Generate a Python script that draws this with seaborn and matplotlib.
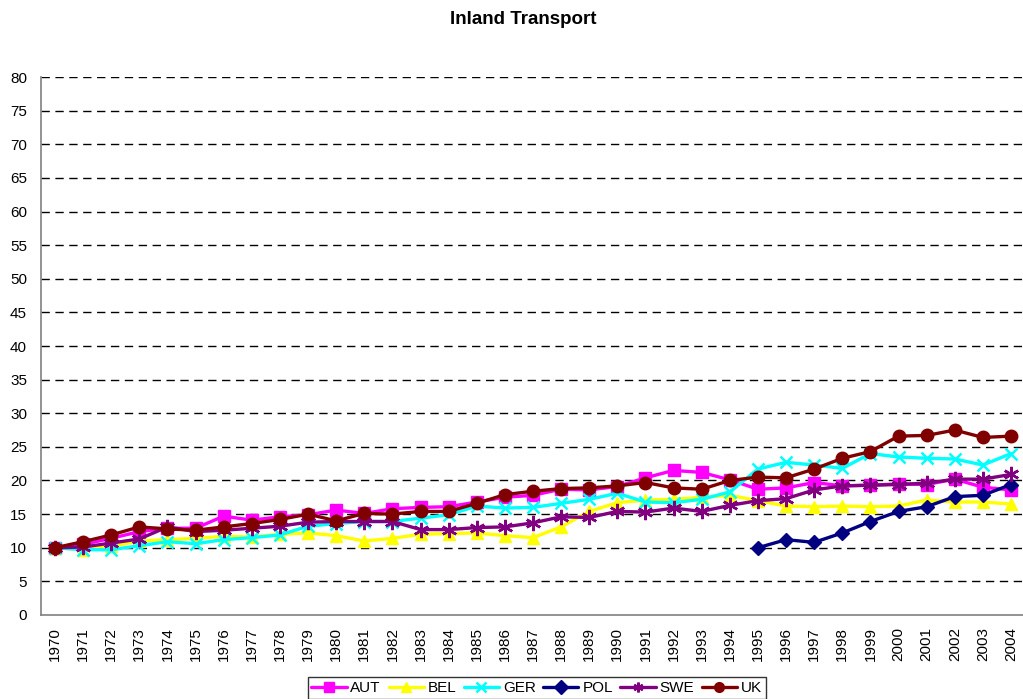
import numpy as np
import pandas as pd
import matplotlib
matplotlib.use("Agg")
import matplotlib.pyplot as plt
import seaborn as sns

years = list(range(1970, 2005))

aut = [10.0, 10.5, 11.4, 12.4, 12.9, 12.9, 14.7, 14.1, 14.6, 14.9, 15.6, 15.1, 15.8, 16.0, 16.1, 16.8, 17.5,
       17.8, 18.7, 18.6, 19.1, 20.4, 21.5, 21.2, 20.1, 18.7, 18.9, 19.7, 19.2, 19.3, 19.5, 19.4, 20.2, 19.0, 18.6]
bel = [10.0, 9.7, 10.2, 11.0, 11.2, 11.4, 11.7, 11.6, 12.0, 12.2, 11.8, 11.0, 11.4, 12.0, 12.1, 12.2, 11.8,
       11.5, 13.1, 15.4, 16.7, 17.1, 17.2, 17.5, 17.8, 17.0, 16.2, 16.1, 16.2, 16.1, 16.2, 17.1, 16.8, 16.8, 16.5]
ger = [10.0, 9.7, 9.7, 10.3, 10.9, 10.6, 11.2, 11.5, 11.9, 13.2, 13.6, 13.9, 13.9, 14.4, 14.9, 16.2, 15.9,
       16.0, 16.6, 17.2, 18.1, 16.8, 16.7, 17.2, 18.3, 21.7, 22.7, 22.3, 21.8, 24.0, 23.5, 23.3, 23.2, 22.3, 24.0]
pol = [np.nan] * 25 + [10.0, 11.2, 10.8, 12.2, 13.9, 15.4, 16.1, 17.6, 17.8, 19.4]
swe = [10.0, 10.1, 10.7, 11.3, 13.1, 12.4, 12.6, 12.9, 13.2, 13.8, 13.9, 13.9, 13.9, 12.7, 12.7, 13.0, 13.1,
       13.7, 14.6, 14.5, 15.4, 15.3, 15.9, 15.4, 16.3, 17.0, 17.3, 18.6, 19.2, 19.3, 19.4, 19.6, 20.2, 20.2, 20.9]
uk = [10.0, 10.9, 11.9, 13.1, 12.8, 12.6, 13.1, 13.6, 14.2, 15.0, 14.0, 15.1, 15.0, 15.4, 15.4, 16.6, 17.9,
      18.4, 18.8, 18.9, 19.2, 19.7, 18.9, 18.7, 20.0, 20.5, 20.4, 21.7, 23.3, 24.3, 26.6, 26.7, 27.5, 26.4, 26.6]

series = {"AUT": aut, "BEL": bel, "GER": ger, "POL": pol, "SWE": swe, "UK": uk}
colors = {"AUT": "#FF00FF", "BEL": "#FFFF00", "GER": "#00FFFF", "POL": "#000080", "SWE": "#800080", "UK": "#800000"}
markers = {"AUT": "s", "BEL": "^", "GER": "x", "POL": "D", "SWE": (6, 2, 0), "UK": "o"}
msizes = {"AUT": 8, "BEL": 9, "GER": 9, "POL": 7, "SWE": 11, "UK": 9}

sns.set_style("white")
plt.rcParams["font.family"] = ["Liberation Sans", "DejaVu Sans"]
plt.rcParams["text.color"] = "black"
plt.rcParams["xtick.labelcolor"] = "black"
plt.rcParams["ytick.labelcolor"] = "black"

fig = plt.figure(figsize=(10.23, 6.99), dpi=100)
ax = fig.add_axes([0.040, 0.1202, 0.962, 0.7696])

xpos = np.arange(len(years))
for name, vals in series.items():
    df = pd.DataFrame({"x": xpos, "y": vals}).dropna()
    sns.lineplot(data=df, x="x", y="y", ax=ax, color=colors[name], linewidth=2.4,
                 marker=markers[name], markersize=msizes[name], markeredgecolor=colors[name],
                 markeredgewidth=1.8 if name in ("GER", "SWE") else 1.0, label=name, legend=False)

ax.set_xlim(-0.5, 34.15)
ax.set_ylim(0, 80)
ax.set_yticks(np.arange(0, 81, 5))
ax.set_xticks(xpos)
ax.set_xticklabels([str(y) for y in years], rotation=90, fontsize=11, color="black")
ax.set_xticks(np.arange(-0.5, 34.6, 1), minor=True)
ax.tick_params(axis="x", which="major", length=0, pad=9, labelcolor="black")
ax.tick_params(axis="x", which="minor", length=4, width=1, color="#808080", direction="out")
ax.tick_params(axis="y", which="major", length=8, width=1, color="#808080", direction="inout",
               labelsize=11, pad=6, labelcolor="black")
ax.set_xlabel("")
ax.set_ylabel("")
for v in range(5, 81, 5):
    ax.axhline(v, color="black", linewidth=1.0, linestyle=(0, (6, 4)), zorder=0)
for s in ["top", "right"]:
    ax.spines[s].set_visible(False)
for s in ["left", "bottom"]:
    ax.spines[s].set_color("#808080")
    ax.spines[s].set_linewidth(1.2)

fig.text(0.511, 0.972, "Inland Transport", ha="center", va="center", fontsize=13.5,
         fontweight="bold", color="black")

handles, labels = ax.get_legend_handles_labels()
leg = fig.legend(handles, labels, loc="center", bbox_to_anchor=(0.5245, 0.0155), ncol=6, fontsize=11,
                 frameon=True, fancybox=False, edgecolor="black", handlelength=2.3, handletextpad=0.25,
                 columnspacing=0.5, borderpad=0.25, borderaxespad=0, labelcolor="black")
leg.get_frame().set_linewidth(1.0)
for h in leg.legend_handles:
    h.set_markersize(7)

fig.savefig("out.png", dpi=100, facecolor="white")
